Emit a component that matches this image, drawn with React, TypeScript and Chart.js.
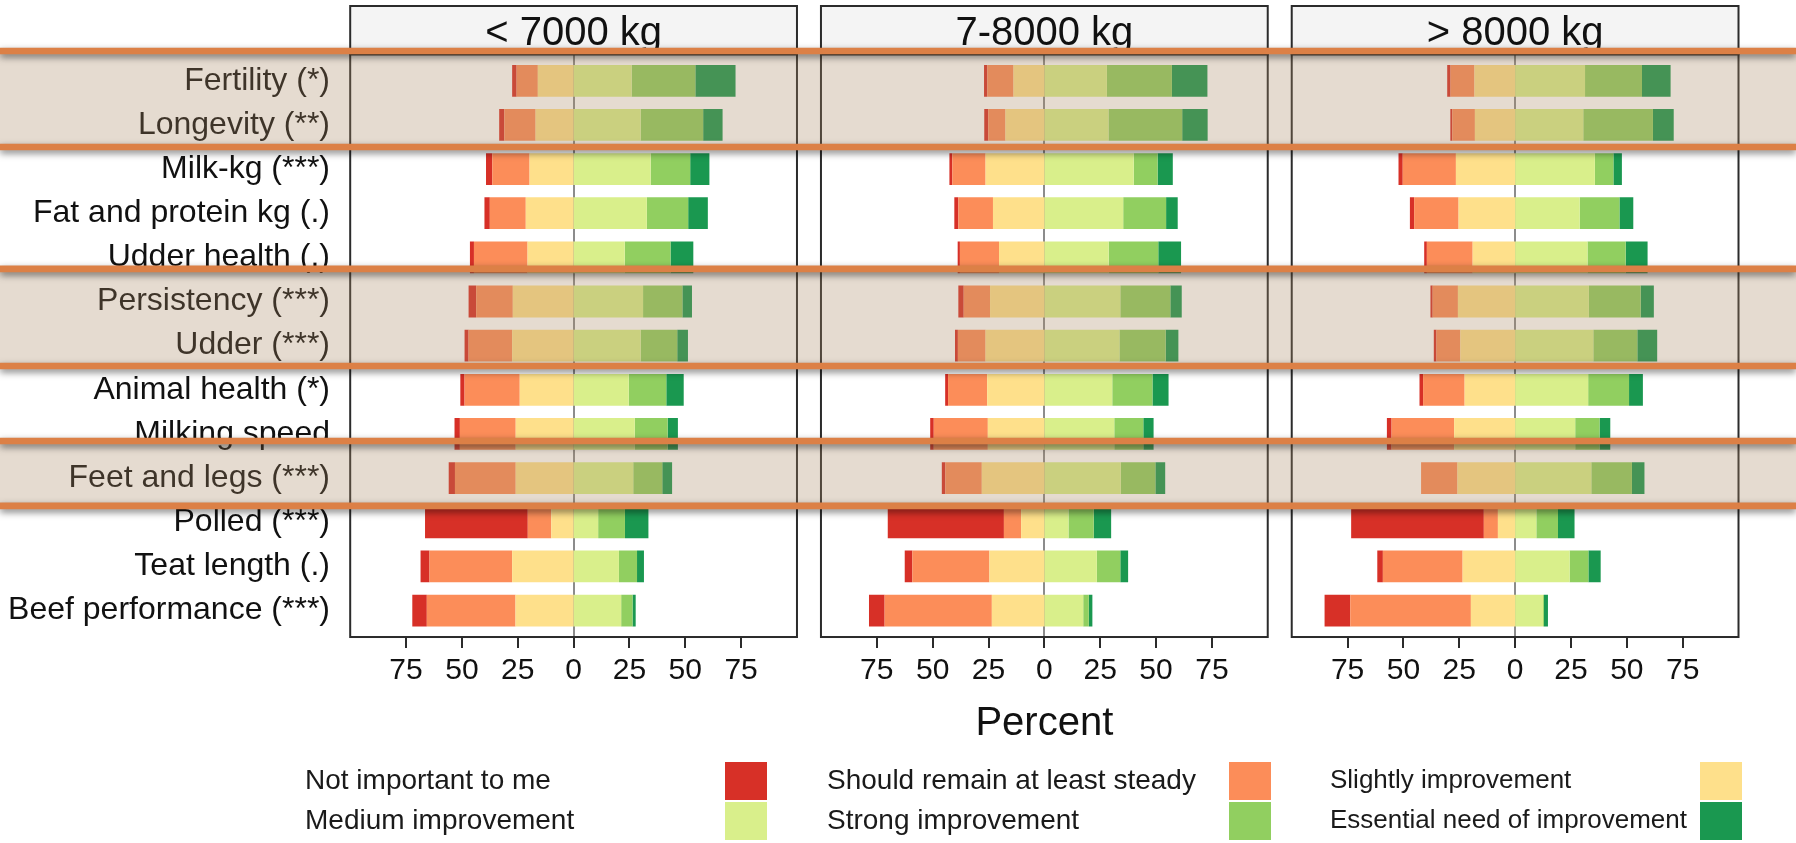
import { useEffect, useRef } from 'react';
import { Chart, registerables } from 'chart.js';

Chart.register(...registerables);

// Traits, top to bottom
const traits = [
  'Fertility (*)',
  'Longevity (**)',
  'Milk-kg (***)',
  'Fat and protein kg (.)',
  'Udder health (.)',
  'Persistency (***)',
  'Udder (***)',
  'Animal health (*)',
  'Milking speed',
  'Feet and legs (***)',
  'Polled (***)',
  'Teat length (.)',
  'Beef performance (***)',
];

// Herd yield groups (one panel each)
const herdGroups = ['< 7000 kg', '7-8000 kg', '> 8000 kg'];

// Answer levels, from least to most wanted improvement
const levels = [
  'Not important to me',
  'Should remain at least steady',
  'Slightly improvement',
  'Medium improvement',
  'Strong improvement',
  'Essential need of improvement',
];
const levelColors = ['#d73027', '#fc8d59', '#fee08b', '#d9ef8b', '#91cf60', '#1a9850'];

// Percent of answers, < 7000 kg
const lowNotImportant = [2, 2.3, 2.8, 2.4, 1.8, 3.4, 1.8, 1.9, 2.4, 2.8, 46, 4, 6.5];
const lowSteady = [9.5, 14, 16.7, 16.1, 24, 16.4, 19.5, 24.7, 25, 27.2, 10.5, 37, 39.7];
const lowSlightly = [16, 17, 19.7, 21.4, 20.6, 27.2, 27.5, 24.1, 25.9, 25.9, 10, 27.5, 26];
const lowMedium = [26, 30, 34.5, 32.8, 22.9, 31.1, 30, 24.7, 27.4, 26.7, 11, 20.3, 21.3];
const lowStrong = [28.5, 28, 17.7, 18.5, 20.5, 17.6, 16.4, 16.8, 14.7, 13, 12, 8.1, 5.1];
const lowEssential = [18, 8.7, 8.6, 8.8, 10.2, 4.3, 4.8, 7.8, 4.6, 4.4, 10.5, 3.1, 1.4];

// Percent of answers, 7-8000 kg
const midNotImportant = [1.5, 1.8, 1.3, 1.8, 1, 2.4, 1.3, 1.3, 1.6, 1.6, 52, 3.4, 7];
const midSteady = [11.7, 7.7, 14.9, 15.5, 17.5, 11.8, 12.4, 17.5, 24.2, 16.3, 7.7, 34.5, 48];
const midSlightly = [13.8, 17.4, 26.3, 23, 20.3, 24.3, 26.3, 25.6, 25.3, 28, 10.4, 24.6, 23.5];
const midMedium = [28, 28.7, 40, 35.3, 28.8, 34, 33.6, 30.4, 31.3, 34.2, 10.8, 23.5, 17.4];
const midStrong = [29.1, 33, 10.7, 19.2, 22.2, 22.4, 20.7, 18, 13, 15.5, 11.3, 10.5, 2.5];
const midEssential = [15.9, 11.4, 6.8, 5.2, 10.2, 5.1, 5.7, 7.2, 4.6, 4.4, 7.8, 3.5, 1.6];

// Percent of answers, > 8000 kg
const highNotImportant = [1.5, 0.9, 1.9, 1.9, 1.2, 1, 1.2, 1.6, 2.1, 0, 59.4, 2.5, 11.5];
const highSteady = [10.7, 10.1, 23.8, 19.9, 20.5, 11.3, 10.7, 18.6, 28, 16.3, 6.3, 35.7, 54];
const highSlightly = [18.2, 18, 26.5, 25.3, 19, 25.6, 24.5, 22.6, 27.3, 25.8, 7.7, 23.5, 19.8];
const highMedium = [31.3, 30.5, 35.7, 28.9, 32.4, 33, 35, 32.7, 26.9, 34.1, 9.5, 24.4, 12.5];
const highStrong = [25.5, 31.2, 8.3, 17.8, 17.1, 23.2, 19.7, 18.3, 10.9, 18.2, 9.7, 8.4, 0.4];
const highEssential = [12.8, 9.3, 3.8, 6.2, 9.8, 5.9, 8.9, 6.2, 4.8, 5.6, 7.4, 5.5, 1.8];

const panelSeries = [
  [lowNotImportant, lowSteady, lowSlightly, lowMedium, lowStrong, lowEssential],
  [midNotImportant, midSteady, midSlightly, midMedium, midStrong, midEssential],
  [highNotImportant, highSteady, highSlightly, highMedium, highStrong, highEssential],
];

// Axis ticks (shown as absolute percent)
const percentTicks = [-75, -50, -25, 0, 25, 50, 75];

// Highlighted trait blocks, as fractional row positions of their edges
const highlightEdges = [
  [-0.675, 1.5],
  [4.26, 6.46],
  [8.16, 9.63],
];

const FONT = '"Liberation Sans", Arial, Helvetica, sans-serif';
const W = 1796;
const H = 843;
const PANEL_RANGE = 105.37; // each axis spans the panel (±100) plus half the gap
const NEGATIVE_LEVELS = 3; // first three levels are drawn to the left of zero

const decorations = {
  id: 'likertDecor',
  beforeDatasetsDraw(chart: any) {
    const { ctx } = chart;
    const y = chart.scales.y;
    const top = y.getPixelForValue(-0.6);
    const bottom = y.getPixelForValue(traits.length - 0.4);
    ctx.save();
    ctx.strokeStyle = '#8c8c8c';
    ctx.lineWidth = 2;
    herdGroups.forEach((_, g) => {
      const x = Math.round(chart.scales['x' + g].getPixelForValue(0));
      ctx.beginPath();
      ctx.moveTo(x, top);
      ctx.lineTo(x, bottom);
      ctx.stroke();
    });
    ctx.restore();
  },
  afterDraw(chart: any) {
    const { ctx } = chart;
    const y = chart.scales.y;
    const top = y.getPixelForValue(-0.6);
    const bottom = y.getPixelForValue(traits.length - 0.4);
    const stripTop = 6;

    ctx.save();
    // panel frames, strips and tick marks
    herdGroups.forEach((name, g) => {
      const xs = chart.scales['x' + g];
      const left = xs.getPixelForValue(-100);
      const right = xs.getPixelForValue(100);
      ctx.fillStyle = '#f4f4f4';
      ctx.fillRect(left, stripTop, right - left, top - stripTop);
      ctx.strokeStyle = '#2b2b2b';
      ctx.lineWidth = 2;
      ctx.strokeRect(left, stripTop, right - left, top - stripTop);
      ctx.strokeRect(left, top, right - left, bottom - top);

      ctx.fillStyle = '#111';
      ctx.font = `40px ${FONT}`;
      ctx.textAlign = 'center';
      ctx.textBaseline = 'alphabetic';
      ctx.fillText(name, xs.getPixelForValue(0), 45);

      ctx.beginPath();
      percentTicks.forEach((v) => {
        const x = Math.round(xs.getPixelForValue(v));
        ctx.moveTo(x, bottom);
        ctx.lineTo(x, bottom + 11);
      });
      ctx.stroke();
    });

    // axis title
    const mid = chart.scales.x1;
    ctx.fillStyle = '#111';
    ctx.font = `40px ${FONT}`;
    ctx.textAlign = 'center';
    ctx.textBaseline = 'middle';
    ctx.fillText('Percent', mid.getPixelForValue(0), 724);

    // legend: text followed by its colour key, three per row
    const textX = [305, 827, 1330];
    const keyX = [725, 1229, 1700];
    const textSize = [28, 28, 26];
    const rowY = [781, 821];
    ctx.textAlign = 'left';
    levels.forEach((lab, i) => {
      const c = i % 3;
      const r = Math.floor(i / 3);
      ctx.font = `${textSize[c]}px ${FONT}`;
      ctx.fillStyle = '#1a1a1a';
      ctx.fillText(lab, textX[c], rowY[r]);
      ctx.fillStyle = levelColors[i];
      ctx.fillRect(keyX[c], rowY[r] - 19, 42, 38);
    });

    // highlighted trait blocks
    highlightEdges.forEach(([a, b]) => {
      const ya = y.getPixelForValue(a);
      const yb = y.getPixelForValue(b);
      ctx.fillStyle = 'rgba(170,136,101,0.3)';
      ctx.fillRect(0, ya, W, yb - ya);
    });
    ctx.strokeStyle = '#dc8046';
    ctx.lineWidth = 6.6;
    ctx.shadowColor = 'rgba(0,0,0,0.5)';
    ctx.shadowBlur = 7;
    ctx.shadowOffsetY = 3;
    highlightEdges.forEach((edges) => {
      edges.forEach((e) => {
        const yy = y.getPixelForValue(e);
        ctx.beginPath();
        ctx.moveTo(0, yy);
        ctx.lineTo(W, yy);
        ctx.stroke();
      });
    });
    ctx.restore();
  },
};

function buildDatasets() {
  const order = [2, 1, 0, 3, 4, 5]; // stacking order outward from zero
  const out: any[] = [];
  panelSeries.forEach((series, g) => {
    order.forEach((l) => {
      out.push({
        label: levels[l],
        data: series[l].map((v) => (l < NEGATIVE_LEVELS ? -v : v)),
        backgroundColor: levelColors[l],
        xAxisID: 'x' + g,
        grouped: false,
        borderWidth: 0,
        barPercentage: 0.72,
        categoryPercentage: 1,
      });
    });
  });
  return out;
}

function panelAxis() {
  return {
    type: 'linear',
    position: 'bottom',
    stack: 'panels',
    stackWeight: 1,
    min: -PANEL_RANGE,
    max: PANEL_RANGE,
    stacked: true,
    grid: { display: false, drawTicks: false },
    border: { display: false },
    afterBuildTicks: (s: any) => {
      s.ticks = percentTicks.map((v) => ({ value: v }));
    },
    afterFit: (s: any) => {
      s.height = 60;
    },
    ticks: {
      autoSkip: false,
      maxRotation: 0,
      padding: 20,
      color: '#111',
      font: { family: FONT, size: 30 },
      callback: (v: any) => String(Math.abs(Number(v))),
    },
  };
}

export default function App() {
  const ref = useRef<HTMLCanvasElement | null>(null);

  useEffect(() => {
    if (!ref.current) return;
    const chart = new Chart(ref.current, {
      type: 'bar',
      data: { labels: traits, datasets: buildDatasets() },
      options: {
        indexAxis: 'y',
        animation: false,
        responsive: false,
        devicePixelRatio: 1,
        layout: { padding: { top: 58.7, bottom: 150.4, left: 0, right: 45.5 } },
        plugins: { legend: { display: false }, tooltip: { enabled: false }, title: { display: false } },
        scales: {
          y: {
            type: 'category',
            offset: true,
            grid: { display: false, drawTicks: false },
            border: { display: false },
            afterFit: (s: any) => {
              s.width = 338.2;
            },
            ticks: {
              autoSkip: false,
              padding: 8.2,
              color: '#111',
              font: { family: FONT, size: 32 },
            },
          },
          x0: panelAxis(),
          x1: panelAxis(),
          x2: panelAxis(),
        },
      } as any,
      plugins: [decorations],
    });
    return () => chart.destroy();
  }, []);

  return (
    <div style={{ position: 'absolute', left: 0, top: 0, width: W, height: H, background: '#fff' }}>
      <canvas ref={ref} width={W} height={H} style={{ display: 'block' }} />
    </div>
  );
}
